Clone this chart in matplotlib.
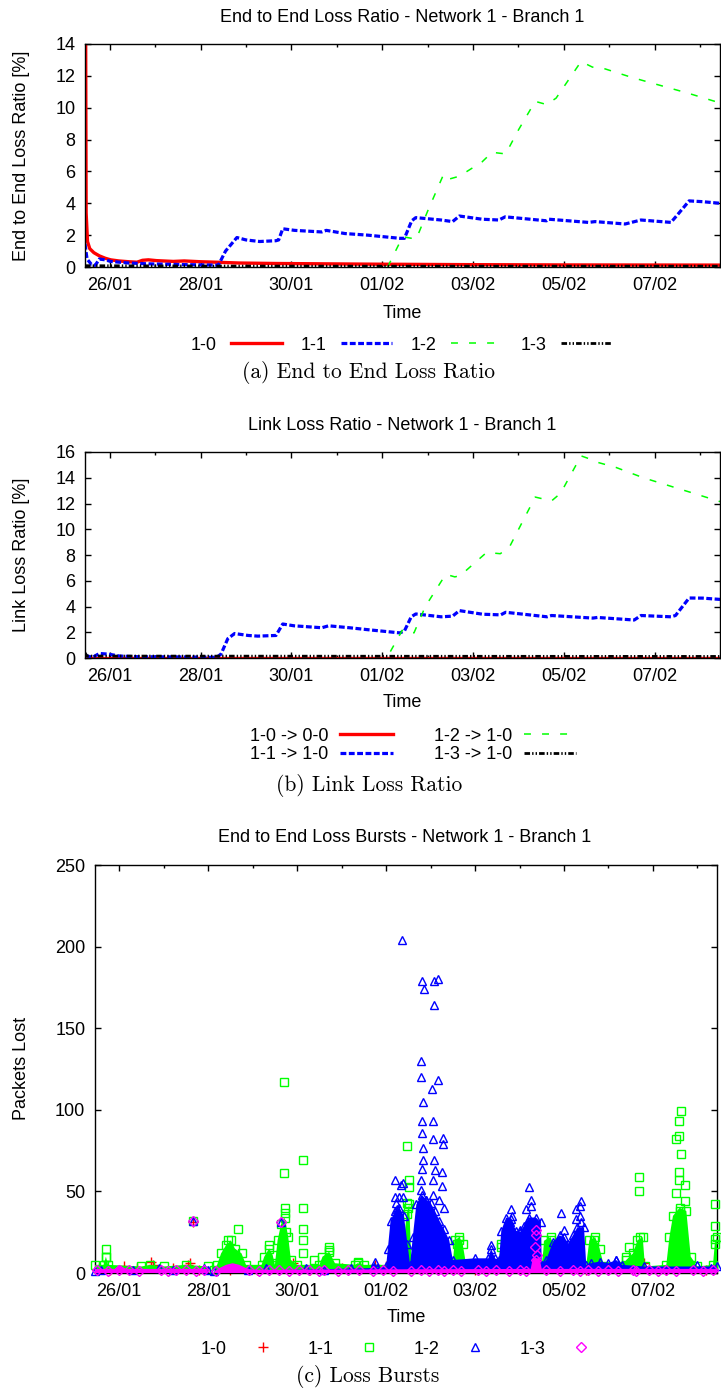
import numpy as np
import matplotlib
matplotlib.use('Agg')
import matplotlib.pyplot as plt

plt.rcParams['font.family'] = ['Liberation Sans', 'DejaVu Sans']
plt.rcParams['font.size'] = 13
plt.rcParams['lines.scale_dashes'] = False

W, H = 721, 1393

# time axis in days after 26/01 00:00
x_min, x_max = -0.545, 13.44
tick_days = [0, 2, 4, 6, 8, 10, 12]
tick_labels = ['26/01', '28/01', '30/01', '01/02', '03/02', '05/02', '07/02']
minor_days = [1, 3, 5, 7, 9, 11, 13]

# ---- (a) end to end loss ratio [%]
e2e_labels = ['1-0', '1-1', '1-2', '1-3']
e2e_10_t = [-0.54, -0.52, -0.49, -0.44, -0.35, -0.23, -0.10, 0.02, 0.2, 0.42, 0.6, 0.72, 0.85,
            1.03, 1.4, 1.64, 2.0, 2.35, 2.85, 3.66, 5.68, 7.7, 10.0, 13.44]
e2e_10_v = [25.0, 3.4, 1.6, 1.15, 0.9, 0.7, 0.55, 0.45, 0.38, 0.33, 0.3, 0.42, 0.45,
            0.4, 0.35, 0.38, 0.33, 0.3, 0.25, 0.22, 0.18, 0.15, 0.13, 0.12]
e2e_11_t = [-0.545, -0.5, -0.4, -0.32, -0.23, -0.1, 0.02, 0.42, 0.83, 1.64, 2.35, 2.39, 2.55, 2.8,
            3.0, 3.3, 3.66, 3.72, 3.81, 4.07, 4.67, 4.77, 5.18, 5.68, 6.39, 6.49, 6.65, 6.74,
            7.3, 7.55, 7.7, 8.2, 8.57, 8.71, 9.62, 9.67, 10.54, 10.69, 11.35, 11.7, 12.36,
            12.51, 12.76, 13.06, 13.44]
e2e_11_v = [1.45, 0.5, 0.15, 0.1, 0.5, 0.45, 0.35, 0.25, 0.2, 0.15, 0.12, 0.1, 1.0, 1.85,
            1.7, 1.6, 1.65, 1.7, 2.4, 2.3, 2.2, 2.3, 2.1, 2.0, 1.8, 1.8, 2.9, 3.1,
            2.95, 2.85, 3.2, 3.0, 2.95, 3.15, 2.9, 3.0, 2.8, 2.85, 2.7, 2.95, 2.8,
            3.3, 4.15, 4.1, 4.0]
e2e_12_t = [6.12, 6.45, 6.75, 7.0, 7.35, 7.45, 7.7, 8.2, 8.42, 8.72, 9.0, 9.37, 9.62, 9.83,
            10.38, 10.63, 10.84, 11.5, 12.0, 12.75, 13.44]
e2e_12_v = [0.0, 1.9, 1.75, 3.5, 5.8, 5.5, 5.7, 6.6, 7.2, 7.1, 8.6, 10.4, 10.2, 10.6,
            12.9, 12.55, 12.5, 11.9, 11.5, 10.9, 10.3]
e2e_13_t = [-0.545, 2.0, 6.0, 10.0, 13.44]
e2e_13_v = [0.08, 0.06, 0.05, 0.05, 0.05]

# ---- (b) link loss ratio [%]
link_labels = ['1-0 -> 0-0', '1-1 -> 1-0', '1-2 -> 1-0', '1-3 -> 1-0']
link_10_t = [-0.545, 13.44]
link_10_v = [0.0, 0.0]
link_11_t = [-0.536, -0.38, -0.23, -0.03, 0.22, 0.63, 1.64, 2.35, 2.45, 2.6, 2.75, 3.05, 3.26,
             3.66, 3.81, 4.06, 4.67, 4.82, 5.28, 5.68, 6.39, 6.49, 6.64, 6.74, 7.3, 7.55, 7.7,
             8.21, 8.61, 8.72, 9.63, 9.73, 10.64, 10.74, 11.55, 11.7, 12.36, 12.46, 12.76,
             13.06, 13.44]
link_11_v = [0.2, 0.05, 0.35, 0.3, 0.15, 0.1, 0.08, 0.05, 0.3, 1.5, 1.9, 1.75, 1.7,
             1.75, 2.64, 2.5, 2.35, 2.5, 2.35, 2.2, 1.95, 2.1, 3.2, 3.42, 3.2, 3.25, 3.68,
             3.4, 3.35, 3.55, 3.2, 3.3, 3.1, 3.15, 2.95, 3.3, 3.2, 3.3, 4.66,
             4.65, 4.55]
link_12_t = [6.18, 6.45, 6.7, 6.95, 7.4, 7.6, 7.72, 8.3, 8.6, 8.8, 9.37, 9.73, 9.93, 10.38,
             10.54, 10.74, 11.15, 11.75, 12.76, 13.44]
link_12_v = [0.5, 2.2, 1.95, 4.0, 6.5, 6.3, 6.4, 8.2, 8.1, 8.6, 12.5, 12.2, 12.8, 15.7,
             15.5, 15.2, 14.8, 14.0, 12.9, 12.15]
link_13_t = [-0.545, -0.5, 13.44]
link_13_v = [0.4, 0.15, 0.12]

# ---- (c) loss bursts [packets]
burst_labels = ['1-0', '1-1', '1-2', '1-3']
# 1-0 points
b10_t = [-0.45, -0.2, 0.1, 0.4, 0.71, 0.75, 1.2, 1.55, 1.6, 1.65, 1.8, 2.5, 3.1, 3.9, 4.3,
         5.0, 5.75, 6.0, 8.0, 10.5, 11.8, 12.3, 13.2]
b10_v = [3, 2, 4, 3, 7, 5, 3, 5, 6, 31, 2, 2, 2, 6, 2, 3, 5, 4, 2, 2, 6, 2, 2]
# 1-1: dense band top and single points
b11_band_t = [-0.545, -0.35, -0.30, -0.25, 0.5, 0.7, 1.0, 1.5, 1.99, 2.07,
              2.14, 2.2, 2.29, 2.4, 2.51, 2.6, 2.75, 2.85, 3.2, 3.26, 3.37, 3.45, 3.5, 3.56,
              3.64, 3.72, 3.8, 3.86, 4.0, 4.5, 4.57, 4.72, 4.85, 5.3, 5.36, 5.5, 6.1, 6.25,
              6.37, 6.46, 6.52, 6.56, 6.62, 7.0, 7.5, 7.54, 7.65, 7.72, 7.8, 8.5, 8.59, 8.65,
              9.5, 9.56, 9.7, 9.79, 9.9, 10.5, 10.57, 10.7, 10.8, 10.9, 11.3, 11.4, 11.55,
              11.65, 11.77, 11.82, 12.3, 12.37, 12.45, 12.6, 12.75, 12.85, 13.0, 13.35,
              13.39, 13.44]
b11_band_v = [5, 5, 10, 5, 4, 5, 4, 5, 4, np.nan,
              2, 5, 12, 17, 20, 15, 12, 5, 5, 10, 15, 11, 5, 20,
              30, 34, 22, 8, 5, 5, 10, 13, 6, 5, 6, 5, 5, 6,
              10, 36, 42, 12, 8, 4, 5, 20, 22, 18, 5, 5, 16, 5,
              5, 20, 22, 15, 4, 5, 20, 22, 15, 4, 4, 8, 12,
              20, 22, 4, 5, 22, 35, 40, 38, 10, 4, 5,
              18, 22]
b11_t = [-0.3, -0.3, 1.65, 2.68, 2.45, 3.37, 3.70, 3.70, 3.72, 3.72, 3.75, 4.14, 4.14, 4.14,
         4.14, 4.14, 4.39, 4.72, 4.72, 5.36, 6.46, 6.52, 6.52, 6.48, 6.5, 7.65, 7.60, 8.59,
         9.7, 9.65, 10.67, 10.67, 11.46, 11.40, 11.68, 11.68, 11.70, 12.64, 12.58, 12.58,
         12.52, 12.64, 12.58, 12.58, 12.71, 12.52, 12.71, 12.6, 13.39, 13.39, 13.39]
b11_v = [15, 10, 32, 27, 20, 17, 117, 61, 40, 37, 25, 69, 40, 27,
         20, 12, 8, 16, 14, 7, 78, 57, 53, 43, 40, 20, 18, 18,
         20, 17, 20, 16, 16, 10, 59, 50, 22, 99, 93, 84,
         82, 73, 62, 57, 54, 49, 44, 38, 42, 29, 21]
# 1-2
b12_band_t = [-0.545, 1.99, 2.07, 2.14, 5.7, 5.74, 5.8, 6.0, 6.04, 6.1, 6.2, 6.3, 6.4, 6.48,
              6.54, 6.6, 6.68, 6.8, 6.9, 7.0, 7.1, 7.2, 7.3, 7.42, 7.5, 8.0, 8.3, 8.36, 8.45,
              8.54, 8.59, 8.7, 8.81, 8.92, 9.01, 9.1, 9.22, 9.37, 9.48, 9.5, 9.6, 9.75, 9.9,
              10.01, 10.09, 10.2, 10.3, 10.45, 10.5, 10.6, 10.8, 11.0, 11.17, 11.3, 11.8, 13.44]
b12_band_v = [1, 2, np.nan, 1, 3, 7, 3, 4, 15, 32, 38, 40, 35, 18,
              5, 22, 42, 48, 45, 43, 38, 32, 27, 20, 8, 9, 9, 15, 9,
              8, 26, 34, 33, 26, 25, 29, 34, 34, 31, 5, 8, 19, 23,
              22, 18, 23, 28, 28, 5, 6, 7, 6, 8, 5, 4, 4]
b12_t = [1.65, 3.64, -0.4, 0.3, 0.9, 1.2, 1.9, 2.9, 3.3, 4.2, 4.6, 5.2,
         6.19, 6.34, 6.19, 6.30, 6.22, 6.25, 6.37, 6.37, 6.35,
         6.80, 6.86, 7.07, 7.16, 7.07, 6.79, 6.79, 7.16, 7.04,
         6.82, 6.81, 7.05, 6.81, 7.05, 7.27, 7.27, 6.84, 6.84, 7.07, 6.81, 7.10, 7.26,
         6.79, 7.05, 7.26, 6.79, 7.05, 6.90, 7.2, 7.31,
         8.36, 8.81, 8.82, 8.78, 9.01, 9.22, 9.26, 9.25, 9.15, 9.19, 9.94, 10.01,
         10.39, 10.35, 10.27, 10.35, 10.26, 10.39, 11.17, 13.0, 13.3]
b12_v = [32, 31, 2, 2, 3, 2, 3, 2, 3, 3, 2, 3,
         57, 54, 46.5, 46.5, 43, 39, 55, 46.5, 204,
         179, 174, 179, 180, 164, 130, 120, 118, 113,
         105, 93, 93, 86, 82, 83, 79, 76.5, 69, 69, 64, 63, 62,
         57, 57, 53.5, 51, 48, 45, 45, 40,
         17, 39, 35, 31, 26.5, 53, 45, 41, 39, 32, 37, 26.5,
         44, 41, 39, 35, 33, 31, 8, 5, 3]
# 1-3
b13_band_t = [-0.545, -0.1, 0.0, 0.15, 1.0, 1.99, 2.07, 2.14, 2.25, 2.4, 2.55, 2.7, 2.85,
              3.0, 9.25, 9.3, 9.45, 9.5, 13.44]
b13_band_v = [2.5, 2.5, 5, 2.5, 2.5, 2.5, np.nan, 1, 3, 5, 6, 5, 3,
              2, 2.5, 9, 9, 2.5, 2.5]
b13_t = [1.65, 3.64, 9.37, 9.37, 9.35, 9.37, 9.4,
         -0.49, -0.26, 0.0, 0.225, 0.45, 0.94, 1.09, 1.275, 1.5, 1.725, 1.91, 2.17, 2.92,
         3.15, 3.37, 3.6, 3.82, 4.05, 4.27, 4.5, 4.61, 4.91, 5.14, 5.4, 5.7, 5.92, 6.15,
         6.56, 6.79, 6.97, 7.16, 7.31, 7.50, 7.69, 8.06, 8.25, 8.47, 8.77, 9.0, 9.15, 9.60,
         9.90, 10.20, 10.35, 10.54, 10.76, 10.99, 11.21, 11.55, 11.62, 11.92, 12.11, 12.30,
         12.52, 12.90, 13.12, 13.35]
b13_v = [32, 31, 26.5, 23.5, 16, 8, 11,
         2, 1, 2, 2, 1, 2, 1, 2, 2, 1, 2, 1, 2,
         1, 2, 2, 1, 2, 2, 1, 2, 1, 2, 2, 1, 2, 1,
         1, 2, 1, 2, 1, 2, 1, 2, 1, 2, 1, 2, 1, 2,
         1, 2, 1, 2, 1, 2, 1, 2, 1, 2, 1, 2,
         1, 2, 1, 2]

RED, BLUE, GREEN, BLACK, MAGENTA = '#ff0000', '#0000ff', '#00ff00', '#000000', '#ff00ff'


def px_axes(fig, left, top, right, bottom):
    return fig.add_axes([left / W, 1 - bottom / H, (right - left) / W, (bottom - top) / H])


def frame(ax, ymax, ystep):
    ax.set_xlim(x_min, x_max)
    ax.set_ylim(0, ymax)
    ax.set_xticks(tick_days)
    ax.set_xticklabels(tick_labels)
    ax.set_xticks(minor_days, minor=True)
    ax.set_yticks(np.arange(0, ymax + 1, ystep))
    ax.tick_params(which='both', direction='in', top=True, right=True, width=1, pad=7,
                   labelsize=13)
    ax.tick_params(which='major', length=4.5)
    ax.tick_params(which='minor', length=2.5)
    for s in ax.spines.values():
        s.set_linewidth(1)


def ftext(fig, x, y, s, **kw):
    fig.text(x / W, 1 - y / H, s, ha='center', va='center', **kw)


fig = plt.figure(figsize=(W / 100, H / 100), dpi=100)

# (a)
ax = px_axes(fig, 85, 44, 720, 267)
la = [
    ax.plot(e2e_10_t, e2e_10_v, color=RED, lw=2.4)[0],
    ax.plot(e2e_11_t, e2e_11_v, color=BLUE, lw=2.3, dashes=(4.2, 1.8))[0],
    ax.plot(e2e_12_t, e2e_12_v, color=GREEN, lw=1.1, dashes=(5, 8))[0],
    ax.plot(e2e_13_t, e2e_13_v, color=BLACK, lw=2.0, dashes=(4, 1.5, 1, 1.5, 1, 1.5))[0],
]
frame(ax, 14, 2)
ftext(fig, 402, 17, 'End to End Loss Ratio - Network 1 - Branch 1')
ftext(fig, 22, 155.5, 'End to End Loss Ratio [%]', rotation=90)
ftext(fig, 402, 314, 'Time')
ax.legend(la, e2e_labels, loc='center', bbox_to_anchor=(401.5 / W, 1 - 345 / H),
          bbox_transform=fig.transFigure, ncol=4, frameon=False, markerfirst=False,
          handlelength=2.83, handletextpad=0.78, columnspacing=1.05, fontsize=13)
ftext(fig, 368, 373, '(a) End to End Loss Ratio', family='cmr10', fontsize=15.5)

# (b)
ax = px_axes(fig, 85, 452, 720, 658)
lb = [
    ax.plot(link_10_t, link_10_v, color=RED, lw=2.4)[0],
    ax.plot(link_11_t, link_11_v, color=BLUE, lw=2.3, dashes=(4.2, 1.8))[0],
    ax.plot(link_12_t, link_12_v, color=GREEN, lw=1.1, dashes=(5, 8))[0],
    ax.plot(link_13_t, link_13_v, color=BLACK, lw=2.0, dashes=(4, 1.5, 1, 1.5, 1, 1.5))[0],
]
frame(ax, 16, 2)
ftext(fig, 402, 425, 'Link Loss Ratio - Network 1 - Branch 1')
ftext(fig, 22, 555, 'Link Loss Ratio [%]', rotation=90)
ftext(fig, 402, 703, 'Time')
ax.legend(lb, link_labels, loc='center', bbox_to_anchor=(413 / W, 1 - 745.5 / H),
          bbox_transform=fig.transFigure, ncol=2, frameon=False, markerfirst=False,
          handlelength=2.9, handletextpad=0.65, columnspacing=2.28, labelspacing=0.1,
          fontsize=13)
ftext(fig, 369, 786, '(b) Link Loss Ratio', family='cmr10', fontsize=15.5)

# (c)
ax = px_axes(fig, 95, 865, 717, 1273)
mk = dict(ls='none', mfc='none', mew=1.0, clip_on=False)
lc = [ax.plot(b10_t, b10_v, marker='+', ms=6.5, color=RED, zorder=2, **mk)[0]]
ax.fill_between(b11_band_t, 0, b11_band_v, color=GREEN, lw=0, zorder=3)
ax.plot(b11_band_t, b11_band_v, marker='s', ms=5.8, color=GREEN, zorder=3, **mk)
lc.append(ax.plot(b11_t, b11_v, marker='s', ms=5.8, color=GREEN, zorder=3, **mk)[0])
ax.fill_between(b12_band_t, 0, b12_band_v, color=BLUE, lw=0, zorder=4)
ax.plot(b12_band_t, b12_band_v, marker='^', ms=6.2, color=BLUE, zorder=4, **mk)
lc.append(ax.plot(b12_t, b12_v, marker='^', ms=6.2, color=BLUE, zorder=4, **mk)[0])
ax.fill_between(b13_band_t, 0, b13_band_v, color=MAGENTA, lw=0, zorder=5)
lc.append(ax.plot(b13_t, b13_v, marker='D', ms=5.2, color=MAGENTA, zorder=5, **mk)[0])
frame(ax, 250, 50)
ftext(fig, 405, 838, 'End to End Loss Bursts - Network 1 - Branch 1')
ftext(fig, 22, 1068, 'Packets Lost', rotation=90)
ftext(fig, 406, 1317, 'Time')
ax.legend(lc, burst_labels, loc='center', bbox_to_anchor=(404 / W, 1 - 1349 / H),
          bbox_transform=fig.transFigure, ncol=4, frameon=False, markerfirst=False,
          numpoints=1, handlelength=2.83, handletextpad=0.585, columnspacing=1.03,
          fontsize=13)
ftext(fig, 368, 1377, '(c) Loss Bursts', family='cmr10', fontsize=15.5)

fig.savefig('out.png', dpi=100)
